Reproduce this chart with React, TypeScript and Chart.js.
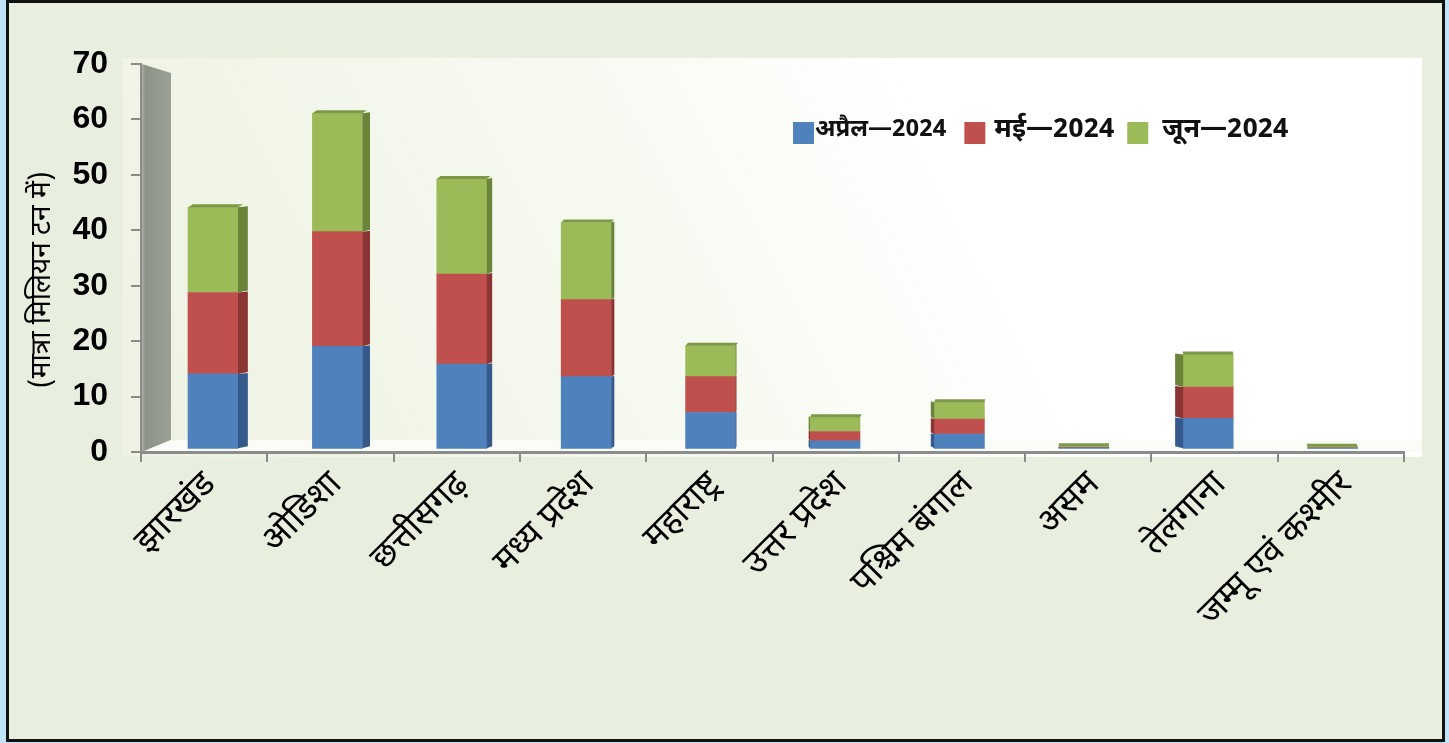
import React, { useEffect, useRef } from "react";
import { Chart, registerables } from "chart.js";

Chart.register(...registerables);

// ---- data ----
const categories = [
  "झारखंड",
  "ओडिशा",
  "छत्तीसगढ़",
  "मध्य प्रदेश",
  "महाराष्ट्र",
  "उत्तर प्रदेश",
  "पश्चिम बंगाल",
  "असम",
  "तेलंगाना",
  "जम्मू एवं कश्मीर",
];
const seriesNames = ["अप्रैल—2024", "मई—2024", "जून—2024"];
const april = [13.7, 18.8, 15.5, 13.2, 6.6, 1.4, 2.6, 0.1, 5.5, 0.05];
const may = [15.0, 21.1, 16.6, 14.2, 6.6, 1.7, 2.8, 0.1, 5.8, 0.05];
const june = [15.7, 21.8, 17.5, 14.2, 5.7, 2.6, 3.1, 0.2, 6.0, 0.2];
const yAxisTitle = "(मात्रा मिलियन टन में)";
const yMin = 0;
const yMax = 70;
const yStep = 10;

const faceColors = ["#4f81bd", "#c0504d", "#9bbb59"];
const sideColors = ["#35598a", "#8a3533", "#6a843a"];
const topColor = "#7d9947";

const DEV = "'Noto Sans Devanagari', 'Lohit Devanagari', 'Noto Sans', 'FreeSans', sans-serif";

const backdropPlugin = {
  id: "backdrop3d",
  beforeDraw(chart: any) {
    const { ctx, chartArea: ca } = chart;
    ctx.save();
    const px = ca.left - 18, py = ca.top - 6, pw = ca.right + 18 - px, ph = ca.bottom + 5 - py;
    const g = ctx.createLinearGradient(px, py + ph, px + pw * 0.6, py);
    g.addColorStop(0, "#edf2e2");
    g.addColorStop(0.6, "#f6f9ef");
    g.addColorStop(1, "#ffffff");
    ctx.fillStyle = g;
    ctx.fillRect(px, py, pw, ph);
    const wg = ctx.createLinearGradient(ca.left, 0, ca.left + 30, 0);
    wg.addColorStop(0, "#b4b8ad");
    wg.addColorStop(0.15, "#8d9386");
    wg.addColorStop(1, "#9aa093");
    ctx.fillStyle = wg;
    ctx.beginPath();
    ctx.moveTo(ca.left + 1, ca.top);
    ctx.lineTo(ca.left + 30, ca.top + 9);
    ctx.lineTo(ca.left + 30, ca.bottom - 12);
    ctx.lineTo(ca.left + 1, ca.bottom);
    ctx.closePath();
    ctx.fill();
    ctx.fillStyle = "#fbfcf8";
    ctx.beginPath();
    ctx.moveTo(ca.left + 1, ca.bottom);
    ctx.lineTo(ca.left + 30, ca.bottom - 12);
    ctx.lineTo(ca.right + 18, ca.bottom - 12);
    ctx.lineTo(ca.right + 18, ca.bottom);
    ctx.closePath();
    ctx.fill();
    ctx.restore();
  },
};

const bars3dPlugin = {
  id: "bars3d",
  afterDatasetsDraw(chart: any) {
    const { ctx, chartArea: ca } = chart;
    const vanish = ca.left + (ca.right - ca.left) * 0.49;
    const k = 0.018;
    const n = chart.data.datasets.length;
    ctx.save();
    for (let d = 0; d < n; d++) {
      const meta = chart.getDatasetMeta(d);
      meta.data.forEach((bar: any) => {
        const { x, y, base, width } = bar.getProps(["x", "y", "base", "width"], true);
        const l = x - width / 2;
        const r = x + width / 2;
        const off = (vanish - x) * k;
        const top = Math.min(y, base);
        const bot = Math.max(y, base);
        if (bot - top > 3) {
          ctx.fillStyle = sideColors[d];
          ctx.beginPath();
          if (off > 0) {
            ctx.moveTo(r, top);
            ctx.lineTo(r + off, top - 1);
            ctx.lineTo(r + off, bot - 2);
            ctx.lineTo(r, bot);
          } else {
            ctx.moveTo(l, top);
            ctx.lineTo(l + off, top - 1);
            ctx.lineTo(l + off, bot - 2);
            ctx.lineTo(l, bot);
          }
          ctx.closePath();
          ctx.fill();
        }
        if (d === n - 1) {
          ctx.fillStyle = topColor;
          ctx.beginPath();
          ctx.moveTo(l, top);
          ctx.lineTo(l + off * 0.3 + 2, top - 3);
          ctx.lineTo(r + off * 0.3 + 2, top - 3);
          ctx.lineTo(r, top);
          ctx.closePath();
          ctx.fill();
        }
      });
    }
    ctx.restore();
  },
};

// legend styling per entry (font size, gap square->text, gap text->next square)
const legendFontSizes = [24, 27, 27];
const legendTextGaps = [1, 9, 14];
const legendItemGaps = [18, 13, 0];

const legendPlugin = {
  id: "insideLegend",
  afterDraw(chart: any) {
    const { ctx, chartArea: ca } = chart;
    ctx.save();
    ctx.textBaseline = "middle";
    ctx.textAlign = "left";
    let x = ca.left + 652;
    const cy = ca.top + 69;
    chart.data.datasets.forEach((ds: any, i: number) => {
      ctx.font = `bold ${legendFontSizes[i]}px ${DEV}`;
      ctx.fillStyle = ds.backgroundColor;
      ctx.fillRect(x, cy - 11, 21, 22);
      x += 21 + legendTextGaps[i];
      ctx.fillStyle = "#111";
      ctx.fillText(ds.label, x, cy - 1);
      x += ctx.measureText(ds.label).width + legendItemGaps[i];
    });
    ctx.restore();
  },
};

export default function App() {
  const ref = useRef<HTMLCanvasElement | null>(null);

  useEffect(() => {
    if (!ref.current) return;
    const series = [april, may, june];
    const chart = new Chart(ref.current, {
      type: "bar",
      data: {
        labels: categories,
        datasets: series.map((vals, i) => ({
          label: seriesNames[i],
          data: vals.map((v, j) => ({ x: j, y: v })),
          backgroundColor: faceColors[i],
          borderWidth: 0,
          barThickness: 50,
          xAxisID: "xb",
          yAxisID: "yb",
          stack: "s",
        })),
      },
      options: {
        responsive: false,
        devicePixelRatio: 1,
        animation: false,
        layout: { padding: { left: 0, top: 64, right: 45, bottom: 0 } },
        plugins: {
          legend: { display: false },
          tooltip: { enabled: false },
        },
        scales: {
          x: {
            type: "category",
            labels: categories,
            offset: true,
            position: "bottom",
            grid: {
              offset: true,
              drawOnChartArea: false,
              drawTicks: true,
              tickLength: 10,
              color: "#8a8a8a",
              lineWidth: 2,
            },
            border: { display: true, color: "#8c8c8c", width: 3 },
            ticks: {
              color: "#000",
              font: { family: DEV, size: 35 },
              minRotation: 45,
              maxRotation: 45,
              autoSkip: false,
              padding: 4,
              labelOffset: 8,
            },
            afterFit(scale: any) {
              scale.height = 291;
            },
          },
          y: {
            type: "linear",
            position: "left",
            min: yMin,
            max: yMax,
            grid: {
              drawOnChartArea: false,
              drawTicks: true,
              tickLength: 10,
              color: "#8a8a8a",
              lineWidth: 2,
            },
            border: { display: true, color: "#8c8c8c", width: 2 },
            ticks: {
              stepSize: yStep,
              color: "#000",
              padding: 23,
              font: { family: "'Liberation Sans Narrow', 'Arial Narrow', 'Liberation Sans', sans-serif", size: 32, weight: "bold" },
            },
            title: {
              display: true,
              text: yAxisTitle + "\u00a0\u00a0\u00a0\u00a0\u00a0\u00a0",
              color: "#000",
              font: { family: DEV, size: 28 },
              padding: { top: 28, bottom: 0 },
            },
            afterFit(scale: any) {
              scale.width = 141;
            },
          },
          xb: {
            type: "linear",
            display: false,
            offset: false,
            grid: { offset: false },
            min: -0.5788,
            max: 9.574,
            stacked: true,
          },
          yb: {
            type: "linear",
            display: false,
            offset: false,
            min: -0.68,
            max: 70.79,
            stacked: true,
          },
        },
      } as any,
      plugins: [backdropPlugin, bars3dPlugin, legendPlugin],
    });
    return () => chart.destroy();
  }, []);

  return (
    <div
      style={{
        position: "absolute",
        left: 0,
        top: 0,
        width: 1449,
        height: 743,
        background: "#bfe4f8",
        overflow: "hidden",
      }}
    >
      <div
        style={{
          position: "absolute",
          left: 6,
          top: 0,
          width: 1439,
          height: 742,
          boxSizing: "border-box",
          border: "3px solid #111",
          background: "#e9efdf",
        }}
      />
      <canvas
        ref={ref}
        width={1449}
        height={743}
        style={{ position: "absolute", left: 0, top: 0, width: 1449, height: 743 }}
      />
    </div>
  );
}
